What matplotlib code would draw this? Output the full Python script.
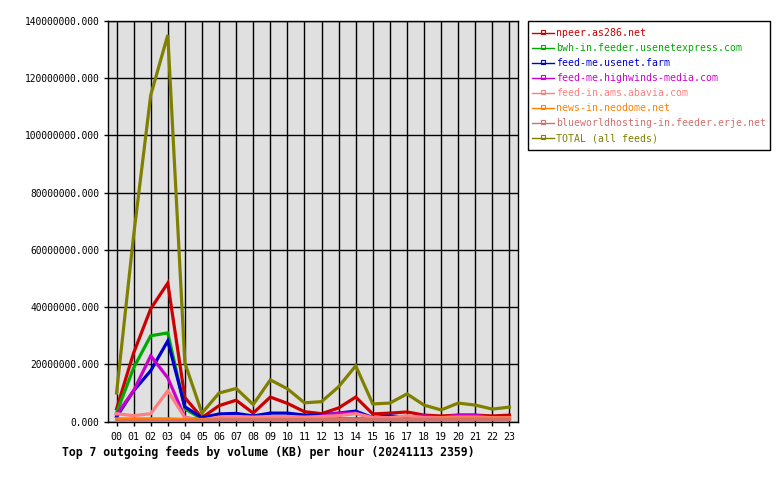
import matplotlib
matplotlib.use("Agg")
import matplotlib.pyplot as plt
from matplotlib.lines import Line2D
from matplotlib.ticker import FuncFormatter, MultipleLocator

plt.rcParams["font.family"] = ["DejaVu Sans Mono"]

hours = ["00", "01", "02", "03", "04", "05", "06", "07", "08", "09", "10", "11",
         "12", "13", "14", "15", "16", "17", "18", "19", "20", "21", "22", "23"]

M = 1e6
npeer = [4.5, 24, 39.4, 48.4, 8.4, 1.4, 5.6, 7.5, 3.0, 8.6, 6.4, 3.5,
         2.8, 4.8, 8.6, 2.7, 3.0, 3.4, 2.3, 2.0, 2.3, 2.3, 2.0, 2.3]
bwh = [3.1, 18.8, 30.0, 31.0, 4.5, 1.0, 1.0, 1.3, 1.0, 1.5, 1.5, 1.0,
       1.0, 1.0, 1.0, 1.0, 1.0, 1.0, 0.9, 0.9, 0.9, 0.9, 0.9, 0.9]
usenetfarm = [1.7, 10.8, 17.8, 28.2, 5.2, 1.4, 2.7, 2.9, 2.0, 3.0, 3.0, 2.3,
              2.3, 3.0, 3.7, 1.4, 2.0, 1.6, 1.0, 0.9, 0.9, 0.9, 0.9, 0.9]
highwinds = [2.5, 10.8, 23.0, 15.3, 1.4, 0.6, 0.8, 0.8, 0.8, 0.8, 0.8, 1.0,
             2.0, 3.0, 3.0, 1.4, 1.4, 1.6, 2.0, 1.4, 2.3, 2.3, 1.2, 1.2]
abavia = [2.8, 2.1, 2.8, 10.8, 1.4, 0.6, 1.6, 1.8, 1.6, 1.8, 1.8, 1.6,
          1.8, 2.1, 2.8, 1.4, 1.4, 2.1, 1.4, 1.4, 1.6, 1.6, 1.4, 1.4]
neodome = [1.0, 1.0, 1.0, 1.0, 0.8, 0.8, 0.8, 0.8, 0.8, 0.8, 0.8, 0.8,
           0.8, 0.8, 0.8, 0.9, 0.9, 0.9, 1.0, 1.2, 1.2, 1.2, 1.2, 1.2]
blueworld = [0.3, 0.3, 0.3, 0.3, 0.3, 0.5, 0.7, 0.7, 0.7, 0.7, 0.7, 0.7,
             0.7, 0.7, 0.7, 0.7, 0.7, 0.7, 0.7, 0.7, 0.7, 0.7, 0.7, 0.7]
total = [10, 65, 114, 135, 20.5, 3.0, 10.0, 11.6, 6.0, 14.6, 11.5, 6.6,
         7.0, 12.2, 19.5, 6.2, 6.5, 9.7, 5.8, 4.1, 6.5, 5.8, 4.4, 5.1]

labels = ["npeer.as286.net", "bwh-in.feeder.usenetexpress.com", "feed-me.usenet.farm",
          "feed-me.highwinds-media.com", "feed-in.ams.abavia.com", "news-in.neodome.net",
          "blueworldhosting-in.feeder.erje.net", "TOTAL (all feeds)"]
series = [npeer, bwh, usenetfarm, highwinds, abavia, neodome, blueworld, total]
colors = ["#cc0000", "#00aa00", "#0000cc", "#cc00cc", "#ff8080", "#ff8000", "#d07070", "#808000"]

title = "Top 7 outgoing feeds by volume (KB) per hour (20241113 2359)"

W, H = 780, 480
fig = plt.figure(figsize=(W / 100, H / 100), dpi=100)
fig.patch.set_facecolor("white")
L, R, T, B = 108, 518, 20.7, 421.7
ax = fig.add_axes([L / W, 1 - B / H, (R - L) / W, (B - T) / H])
ax.set_facecolor("#e0e0e0")

x = list(range(len(hours)))
for s, c in zip(series, colors):
    ax.plot(x, [v * M for v in s], color=c, lw=2.3, solid_joinstyle="miter", zorder=3)

ax.set_xlim(-0.5, 23.5)
ax.set_ylim(0, 140 * M)
ax.yaxis.set_major_locator(MultipleLocator(20 * M))
ax.yaxis.set_major_formatter(FuncFormatter(lambda v, p: "%.3f" % v))
ax.set_xticks(x)
ax.set_xticklabels(hours)
ax.grid(True, color="black", lw=1.0, zorder=1)
ax.set_axisbelow(True)
for sp in ax.spines.values():
    sp.set_color("black")
    sp.set_linewidth(1.0)
ax.tick_params(axis="y", length=2.9, width=1, pad=3.5, labelsize=6.9, colors="black")
ax.tick_params(axis="x", length=2.9, width=1, pad=4.5, labelsize=7.2, colors="black")

fig.text(268.5 / W, 1 - 452 / H, title, ha="center", va="center",
         fontweight="bold", fontsize=8.3)

# legend box
lx0, ly0, lx1, ly1 = 528, 21, 770, 150
fig.add_artist(plt.Rectangle((lx0 / W, 1 - ly1 / H), (lx1 - lx0) / W, (ly1 - ly0) / H,
                             transform=fig.transFigure, fill=True, facecolor="white",
                             edgecolor="black", lw=1.0))
for i, (lab, c) in enumerate(zip(labels, colors)):
    yy = 1 - (33.3 + 15 * i) / H
    fig.add_artist(Line2D([532 / W, 554 / W], [yy, yy], transform=fig.transFigure,
                          color=c, lw=1.0))
    fig.add_artist(Line2D([543 / W], [yy + 1 / H], transform=fig.transFigure, color=c,
                          marker="s", markersize=2.5, markerfacecolor="none",
                          markeredgewidth=0.8, lw=0))
    fig.text(556 / W, yy, lab, ha="left", va="center", color=c, fontsize=7.1)

fig.savefig("out.png", dpi=100, facecolor="white")
